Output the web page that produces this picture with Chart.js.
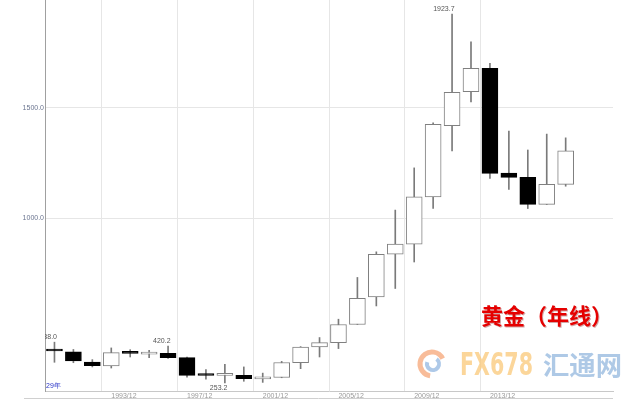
<!DOCTYPE html>
<html lang="zh">
<head>
  <meta charset="UTF-8">
  <title>黄金（年线）</title>
  <style>
    body { margin: 0; background: #fff; }
    #wrap { width: 640px; height: 400px; }
  </style>
  <script src="https://cdn.jsdelivr.net/npm/chart.js"></script>
</head>
<body>
  <div id="wrap"><canvas id="kline" width="640" height="400"></canvas></div>
  <script>
    // 年线数据 (1990 - 2017), 2018/2019 留空
    const years = ['1990','1991','1992','1993','1994','1995','1996','1997','1998','1999',
                   '2000','2001','2002','2003','2004','2005','2006','2007','2008','2009',
                   '2010','2011','2012','2013','2014','2015','2016','2017','2018','2019'];
    const opens  = [401, 394, 348, 330, 391, 384, 388, 368, 289, 288,
                    288, 272, 278, 345, 416, 436, 518, 643, 836, 882,
                    1096, 1418, 1572, 1678, 1203, 1184, 1062, 1152];
    const highs  = [438, 405, 359, 412, 404, 401, 420.2, 370, 314, 338,
                    326, 298, 351, 418, 459, 542, 731, 847, 1036, 1227,
                    1431, 1923.7, 1798, 1700, 1394, 1308, 1380, 1363];
    const lows   = [347, 345, 326, 321, 371, 368, 365, 280, 270, 253.2,
                    261, 256, 277, 318, 371, 409, 518, 602, 681, 801,
                    1043, 1304, 1526, 1179, 1129, 1043, 1061, 1144];
    const closes = [398, 353, 332, 391, 387, 386, 368, 288, 287, 291,
                    273, 277, 346, 416, 436, 518, 636, 836, 882, 1096,
                    1424, 1569, 1678, 1202, 1184, 1062, 1152, 1304];
    const yTicks = [1000, 1500];
    const gridYears = ['1993','1997','2001','2005','2009','2013'];
    // 标注: 最高/最低点
    const marks = [
      { i: 0,  v: 438,    side: 'up' },
      { i: 6,  v: 420.2,  side: 'up' },
      { i: 9,  v: 253.2,  side: 'down' },
      { i: 21, v: 1923.7, side: 'up' }
    ];

    const isDown = i => closes[i] < opens[i];

    const extras = {
      id: 'extras',
      afterDatasetsDraw(chart) {
        const ctx = chart.ctx, a = chart.chartArea;
        const xs = chart.scales.x, ys = chart.scales.y;
        ctx.save();
        ctx.beginPath();
        ctx.rect(a.left, a.top, a.right - a.left, a.bottom - a.top);
        ctx.clip();
        ctx.font = '7px "Liberation Sans", Arial, sans-serif';
        ctx.fillStyle = '#555';
        ctx.textAlign = 'right';
        marks.forEach(m => {
          const x = xs.getPixelForValue(m.i) + 2.5;
          const y = ys.getPixelForValue(m.v);
          if (m.side === 'up') {
            ctx.textBaseline = 'bottom';
            ctx.fillText(m.v.toFixed(1), x, y - 1.5);
          } else {
            ctx.textBaseline = 'top';
            ctx.fillText(m.v.toFixed(1), x, y + 2);
          }
        });
        ctx.fillStyle = '#2a35c8';
        ctx.textAlign = 'left';
        ctx.textBaseline = 'bottom';
        ctx.fillText('29年', a.left + 1, a.bottom - 1);
        ctx.restore();
      },
      afterDraw(chart) {
        const ctx = chart.ctx, a = chart.chartArea;
        ctx.save();
        // 底部第二条线
        ctx.strokeStyle = '#d0d0d0';
        ctx.lineWidth = 1;
        ctx.beginPath();
        ctx.moveTo(24, 398.5);
        ctx.lineTo(a.right, 398.5);
        ctx.stroke();

        // 水印 logo
        ctx.lineWidth = 5;
        ctx.strokeStyle = 'rgba(245,160,110,0.7)';
        ctx.beginPath();
        ctx.arc(432, 364, 12, 0.55 * Math.PI, 1.85 * Math.PI);
        ctx.stroke();
        ctx.strokeStyle = 'rgba(140,178,222,0.7)';
        ctx.lineWidth = 4;
        ctx.beginPath();
        ctx.arc(433, 364, 6, -0.3 * Math.PI, 1.1 * Math.PI);
        ctx.stroke();

        ctx.textBaseline = 'alphabetic';
        ctx.textAlign = 'left';
        ctx.font = 'bold 32px "DejaVu Sans Condensed", "Liberation Sans Narrow", sans-serif';
        const w1 = ctx.measureText('FX678').width;
        const g = ctx.createLinearGradient(460, 0, 533, 0);
        g.addColorStop(0, 'rgba(250,200,120,0.75)');
        g.addColorStop(1, 'rgba(242,140,120,0.75)');
        ctx.fillStyle = g;
        ctx.save();
        ctx.translate(460, 375);
        ctx.scale(73 / w1, 1);
        ctx.fillText('FX678', 0, 0);
        ctx.restore();

        ctx.font = 'bold 26px "Noto Sans CJK SC", sans-serif';
        const w2 = ctx.measureText('汇通网').width;
        ctx.fillStyle = 'rgba(140,178,220,0.7)';
        ctx.save();
        ctx.translate(543, 375);
        ctx.scale(79 / w2, 1);
        ctx.fillText('汇通网', 0, 0);
        ctx.restore();

        // 标题
        ctx.font = 'bold 22px "Noto Sans CJK SC", sans-serif';
        ctx.fillStyle = 'rgba(120,0,0,0.35)';
        ctx.fillText('黄金（年线）', 482, 325);
        ctx.fillStyle = '#e50000';
        ctx.fillText('黄金（年线）', 481, 324);
        ctx.restore();
      }
    };

    new Chart(document.getElementById('kline'), {
      type: 'bar',
      data: {
        labels: years,
        datasets: [
          {
            label: 'body',
            data: opens.map((o, i) => [o, closes[i]]),
            backgroundColor: opens.map((o, i) => isDown(i) ? '#000' : '#fff'),
            borderColor: opens.map((o, i) => isDown(i) ? '#000' : '#808080'),
            borderWidth: 1,
            borderSkipped: false,
            barThickness: 16,
            minBarLength: 2,
            grouped: false,
            order: 0
          },
          {
            label: 'wick',
            data: lows.map((l, i) => [l, highs[i]]),
            backgroundColor: '#7a7a7a',
            borderWidth: 0,
            barThickness: 1,
            grouped: false,
            order: 1
          }
        ]
      },
      options: {
        responsive: false,
        animation: false,
        devicePixelRatio: 1,
        layout: { padding: { top: 0, right: 27, left: 0, bottom: 0 } },
        plugins: { legend: { display: false }, tooltip: { enabled: false } },
        scales: {
          x: {
            offset: true,
            grid: {
              offset: true,
              drawTicks: false,
              color: c => gridYears.includes(years[c.index]) ? '#e6e6e6' : 'rgba(0,0,0,0)'
            },
            border: { color: '#c8c8c8', width: 1 },
            ticks: {
              autoSkip: false,
              maxRotation: 0,
              align: 'start',
              padding: 1,
              color: '#9a9a9a',
              font: { size: 7, family: '"Liberation Sans", Arial, sans-serif' },
              callback: (v, i) => gridYears.includes(years[i]) ? years[i] + '/12' : ''
            },
            afterFit: s => { s.height = 9; s.paddingLeft = 0; s.paddingRight = 0; }
          },
          y: {
            min: 217,
            max: 1987,
            afterBuildTicks: s => { s.ticks = yTicks.map(v => ({ value: v })); },
            afterFit: s => { s.width = 45; s.paddingTop = 0; s.paddingBottom = 0; },
            grid: { color: '#e6e6e6', drawTicks: false },
            border: { color: '#a0a0a0', width: 1 },
            ticks: {
              padding: 1,
              color: '#6b7590',
              font: { size: 7, family: '"Liberation Sans", Arial, sans-serif' },
              callback: v => Number(v).toFixed(1)
            }
          }
        }
      },
      plugins: [extras]
    });
  </script>
</body>
</html>
